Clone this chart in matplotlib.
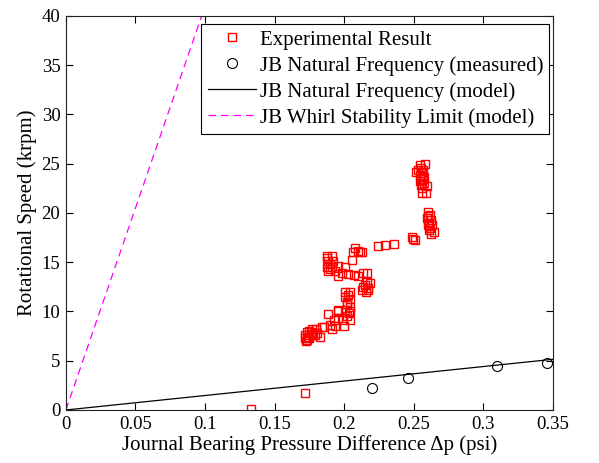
import numpy as np
import matplotlib.pyplot as plt

plt.rcParams['font.family'] = ['Liberation Serif', 'DejaVu Serif']

# experimental result (pressure difference psi, speed krpm)
exp_dp = [0.133, 0.172,
          0.1730, 0.1766, 0.1737, 0.1778, 0.1730, 0.1802, 0.1826, 0.1843, 0.1795,
          0.1722, 0.1745, 0.1760, 0.1715, 0.1750, 0.1790, 0.1728, 0.1770,
          0.1886, 0.1953, 0.1929, 0.1958, 0.1898, 0.1934, 0.1857, 0.1910,
          0.2006, 0.2042, 0.2006, 0.2042, 0.2018, 0.2042, 0.2006, 0.2042,
          0.2018, 0.2042, 0.1994, 0.2001, 0.1958, 0.2030, 0.2020, 0.2035,
          0.2162, 0.2185, 0.2138, 0.2174, 0.2126, 0.2155, 0.2150, 0.2170,
          0.1958, 0.2006, 0.1982, 0.2030, 0.2073, 0.2101, 0.2138, 0.2166, 0.1958,
          0.1874, 0.1910, 0.1886, 0.1922, 0.1874, 0.1910, 0.1886, 0.1934,
          0.1880, 0.1900, 0.1895,
          0.2054, 0.2078, 0.2101, 0.2065, 0.2126, 0.2114,
          0.2245, 0.2293, 0.2358,
          0.2497, 0.2509, 0.2490,
          0.2600, 0.2617, 0.2593, 0.2624, 0.2600, 0.2633, 0.2610, 0.2648, 0.2624,
          0.2605, 0.2612, 0.2620,
          0.2545, 0.2581, 0.2533, 0.2569, 0.2545, 0.2576, 0.2545, 0.2576,
          0.2557, 0.2593, 0.2562, 0.2586, 0.2514,
          0.2550, 0.2560, 0.2555, 0.2565, 0.2550, 0.2560]
exp_speed = [0.1, 1.7,
             7.9, 8.2, 7.4, 7.6, 7.1, 7.8, 7.4, 8.4, 8.2,
             7.6, 7.3, 7.9, 7.3, 8.0, 7.6, 7.0, 7.7,
             9.7, 10.2, 9.1, 9.3, 8.6, 8.5, 8.4, 8.2,
             12.0, 12.0, 11.5, 11.3, 10.8, 10.5, 10.2, 10.0,
             9.5, 9.1, 9.1, 8.5, 10.0, 11.7, 11.0, 9.8,
             13.0, 12.9, 12.5, 12.4, 12.2, 12.0, 12.7, 12.2,
             14.6, 14.5, 13.9, 13.8, 13.7, 13.6, 13.9, 13.9, 13.6,
             15.6, 15.6, 15.1, 15.1, 14.5, 14.5, 14.1, 14.1,
             15.4, 14.8, 14.3,
             15.2, 16.4, 16.1, 16.0, 16.0, 16.0,
             16.6, 16.7, 16.9,
             17.4, 17.3, 17.6,
             20.1, 19.8, 19.5, 19.3, 18.8, 18.8, 18.3, 18.1, 17.9,
             19.7, 19.0, 18.5,
             24.9, 25.0, 24.4, 24.4, 23.9, 23.7, 23.2, 23.0,
             22.5, 22.7, 22.0, 22.0, 24.2,
             24.6, 24.1, 23.5, 23.4, 22.8, 22.9]

# measured natural frequency
nat_dp = [0.2197, 0.246, 0.310, 0.346]
nat_speed = [2.2, 3.2, 4.5, 4.75]

# model lines (krpm per psi)
nat_slope = 14.7
whirl_slope = 410.0

fig = plt.figure(figsize=(5.99, 4.63), dpi=100)
ax = fig.add_axes([0.110, 0.1145, 0.813, 0.851])

xm = np.array([0, 0.35])
ax.plot(exp_dp, exp_speed, 's', mfc='none', mec='red', ms=6.2, mew=1.0,
        label='Experimental Result')
ax.plot(nat_dp, nat_speed, 'o', mfc='none', mec='black', ms=7.2, mew=0.8,
        label='JB Natural Frequency (measured)')
ax.plot(xm, nat_slope * xm, '-', color='black', lw=0.9,
        label='JB Natural Frequency (model)')
ax.plot(xm, whirl_slope * xm, '--', color='magenta', lw=0.9, dashes=(6, 4),
        label='JB Whirl Stability Limit (model)')

ax.set_xlim(0, 0.35)
ax.set_ylim(0, 40)
ax.set_xticks(np.arange(0, 0.351, 0.05))
ax.set_xticklabels(['0', '0.05', '0.1', '0.15', '0.2', '0.25', '0.3', '0.35'])
ax.set_yticks(range(0, 41, 5))
ax.tick_params(direction='in', top=True, right=True, length=5, labelsize=13.5,
               pad=4)
for s in ax.spines.values():
    s.set_linewidth(0.8)
    s.set_color('#222222')

ax.set_xlabel('Journal Bearing Pressure Difference \u0394p (psi)', fontsize=15,
              labelpad=2)
ax.set_ylabel('Rotational Speed (krpm)', fontsize=15, labelpad=3)

leg = ax.legend(loc='upper right', bbox_to_anchor=(0.993, 0.98), fontsize=15,
                fancybox=False, framealpha=1, edgecolor='black',
                handlelength=2.3, handletextpad=0.2, labelspacing=0.3,
                borderpad=0.3, borderaxespad=0)
leg.get_frame().set_linewidth(0.8)

fig.savefig('out.png', dpi=100)
